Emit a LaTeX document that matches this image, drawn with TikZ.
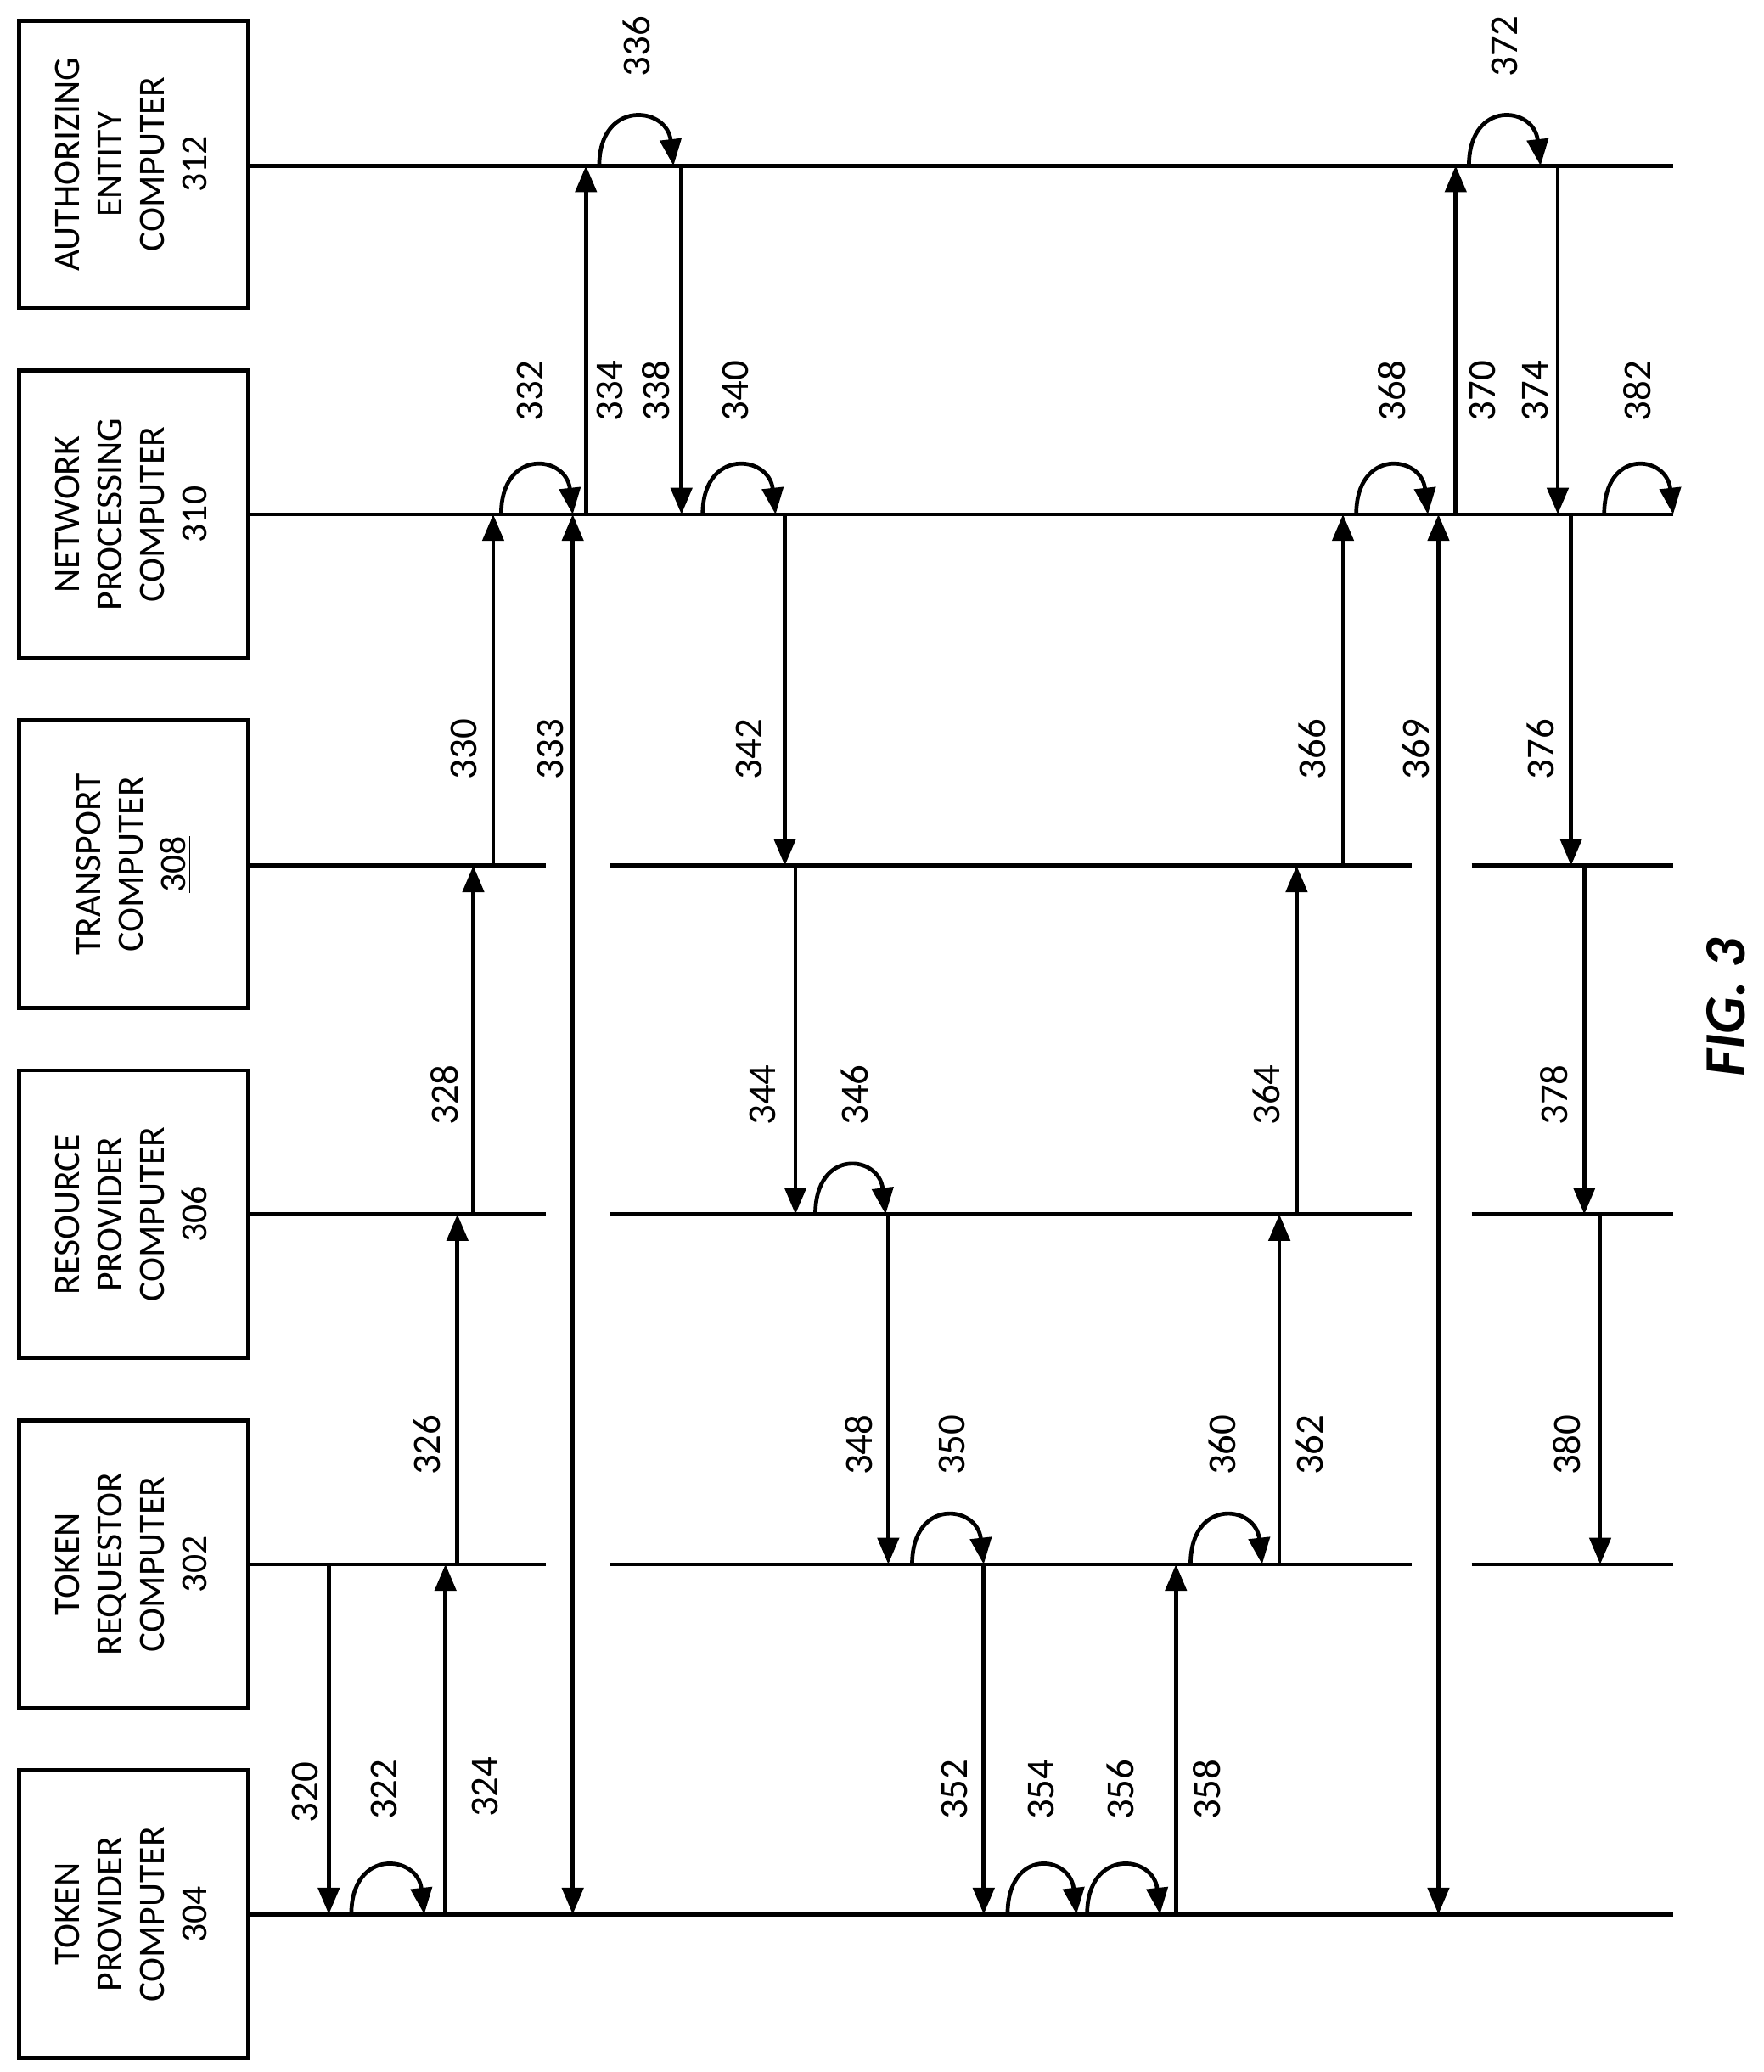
\documentclass[tikz,border=0pt]{standalone}
\usepackage{fontspec}
\setmainfont{Carlito}
\usetikzlibrary{arrows.meta}
\tikzset{
  ent/.style={draw, line width=1.5pt, minimum width=108.5pt, minimum height=86.5pt, rotate=90, align=center, font=\fontsize{14}{16}\selectfont, inner sep=2pt},
  msg/.style={line width=1.5pt, -{Triangle[length=10pt,width=8pt]}},
  both/.style={line width=1.5pt, {Triangle[length=10pt,width=8pt]}-{Triangle[length=10pt,width=8pt]}},
  num/.style={rotate=90, font=\fontsize{15}{17}\selectfont},
}
\begin{document}
\begin{tikzpicture}[x=0.5pt, y=-0.5pt]
    \useasboundingbox (0,0) rectangle (1330,1563);
    % entity boxes
    \node[ent] (auth) at (101,124) {AUTHORIZING\\ENTITY\\COMPUTER\\\underline{312}};
    \node[ent] (net) at (101,388) {NETWORK\\PROCESSING\\COMPUTER\\\underline{310}};
    \node[ent] (trans) at (101,652) {TRANSPORT\\COMPUTER\\\underline{308}};
    \node[ent] (res) at (101,916) {RESOURCE\\PROVIDER\\COMPUTER\\\underline{306}};
    \node[ent] (treq) at (101,1180) {TOKEN\\REQUESTOR\\COMPUTER\\\underline{302}};
    \node[ent] (tprov) at (101,1444) {TOKEN\\PROVIDER\\COMPUTER\\\underline{304}};

    % lifelines
    \foreach \y in {125,388,1444}
        \draw[line width=1.5pt] (188,\y) -- (1262,\y);
    \foreach \y in {653,916,1180} {
        \draw[line width=1.5pt] (188,\y) -- (412,\y);
        \draw[line width=1.5pt] (460,\y) -- (1065,\y);
        \draw[line width=1.5pt] (1110,\y) -- (1262,\y);
    }

    % messages: x, from, to, label x, label y, label
    \foreach \x/\ya/\yb/\lx/\ly/\t in {
        248/1180/1444/230/1352/320, 336/1444/1180/366/1348/324,
        345/1180/916/322/1090/326, 357/916/653/335/826/328,
        372/653/388/350/565/330, 442/388/125/460/295/334,
        514/125/388/495/295/338, 592/388/653/565/565/342,
        600/653/916/575/826/344, 670/916/1180/648/1090/348,
        742/1180/1444/720/1350/352, 887/1444/1180/910/1350/358,
        965/1180/916/988/1090/362, 978/916/653/955/826/364,
        1013/653/388/990/565/366, 1098/388/125/1118/295/370,
        1175/125/388/1158/295/374, 1185/388/653/1162/565/376,
        1195/653/916/1172/826/378, 1207/916/1180/1182/1090/380} {
        \coordinate (s) at (\x,\ya);
        \coordinate (e) at (\x,\yb);
        \draw[msg] (s) -- (e);
        \node[num] at (\lx,\ly) {\t};
    }
    % two-way messages
    \foreach \x/\lx/\t in {432/415/333, 1085/1068/369} {
        \coordinate (s) at (\x,388);
        \coordinate (e) at (\x,1444);
        \draw[both] (s) -- (e);
        \node[num] at (\lx,565) {\t};
    }

    % local steps: left x, right x, lifeline y, label x, label y, label
    \foreach \xa/\xb/\y/\lx/\ly/\t in {
        265/320/1444/290/1350/322, 378/432/388/400/295/332,
        452/508/125/480/35/336, 530/585/388/555/295/340,
        615/668/916/645/826/346, 688/742/1180/718/1090/350,
        760/812/1444/785/1350/354, 820/875/1444/845/1350/356,
        898/952/1180/922/1090/360, 1023/1077/388/1050/295/368,
        1108/1162/125/1135/35/372, 1210/1262/388/1235/295/382} {
        \coordinate (s) at (\xa,\y);
        \coordinate (e) at (\xb,\y);
        \draw[msg] (s) .. controls (\xa,\y-50) and (\xb-5,\y-45) .. (e);
        \node[num] at (\lx,\ly) {\t};
    }

    \node[rotate=90, font=\fontsize{22}{24}\selectfont\bfseries\itshape] (fig) at (1302,760) {FIG. 3};
\end{tikzpicture}
\end{document}
